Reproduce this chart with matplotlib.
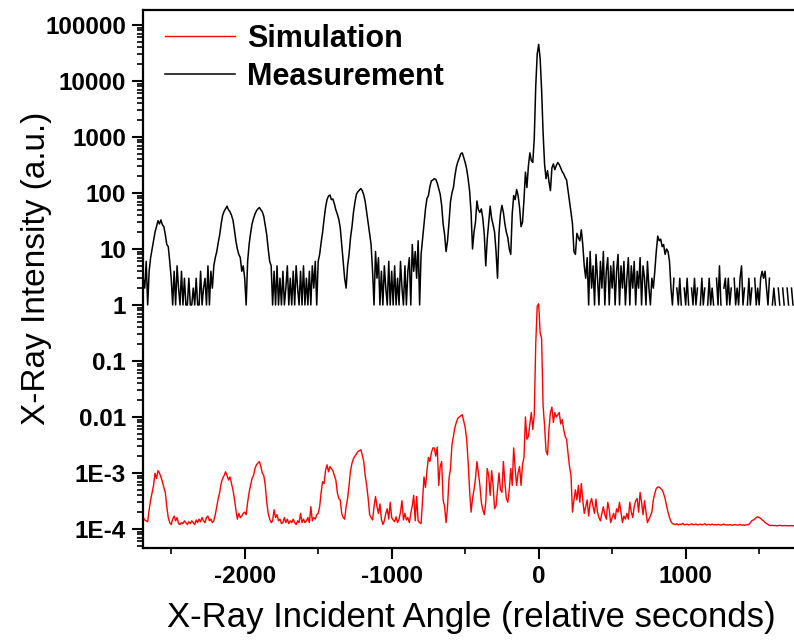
import numpy as np
import matplotlib
matplotlib.use("Agg")
import matplotlib.pyplot as plt
from matplotlib.ticker import FixedLocator, FixedFormatter, LogLocator, MultipleLocator, NullFormatter

# ---------------- data ----------------
scan_start = -2690      # first scan angle (relative seconds)
scan_step = 10          # scan step (relative seconds)

# measured counts, one row = 100 s (0 = no counts)
measurement = [
    3, 2, 6, 1, 4, 7, 10, 14, 20, 25,                      # -2690
    32, 28, 33, 27, 25, 18, 12, 11, 6, 3,                  # -2590
    1, 4, 1, 5, 2, 1, 4, 1, 3, 1,                          # -2490
    1, 3, 1, 1, 2, 1, 3, 1, 1, 4,                          # -2390
    1, 2, 3, 1, 5, 1, 4, 2, 5, 7,                          # -2290
    9, 13, 18, 28, 40, 47, 52, 58, 50, 46,                 # -2190
    40, 33, 22, 14, 10, 8, 7, 4, 5, 3,                     # -2090
    1, 6, 12, 19, 28, 35, 42, 48, 52, 55,                  # -1990
    50, 46, 38, 26, 18, 10, 6, 5, 1, 4,                    # -1890
    1, 5, 1, 3, 1, 4, 1, 2, 5, 1,                          # -1790
    3, 1, 4, 1, 5, 2, 1, 4, 1, 5,                          # -1690
    1, 3, 1, 4, 1, 5, 2, 6, 1, 6,                          # -1590
    8, 13, 20, 34, 55, 76, 88, 92, 76, 78,                 # -1490
    64, 50, 42, 34, 24, 12, 6, 3, 2, 5,                    # -1390
    8, 16, 25, 45, 68, 95, 105, 112, 120, 110,             # -1290
    92, 70, 45, 28, 18, 12, 4, 1, 9, 3,                    # -1190
    7, 1, 4, 1, 5, 2, 1, 6, 1, 4,                          # -1090
    1, 5, 1, 3, 1, 6, 2, 1, 5, 1,                          # -990
    4, 7, 1, 12, 4, 9, 3, 14, 1, 8,                        # -890
    15, 28, 52, 80, 90, 130, 165, 170, 180, 175,           # -790
    150, 120, 95, 60, 28, 18, 9, 14, 30, 70,               # -690
    100, 125, 200, 290, 360, 420, 500, 520, 430, 350,      # -590
    270, 180, 110, 45, 10, 20, 30, 72, 50, 45,             # -490
    52, 35, 18, 5, 15, 30, 58, 35, 27, 20,                 # -390
    9, 3, 19, 42, 60, 45, 28, 20, 16, 10,                  # -290
    8, 42, 90, 76, 115, 90, 55, 25, 30, 75,                # -190
    235, 125, 300, 520, 380, 350, 950, 8000, 30000, 45000, # -90
    25000, 6900, 1200, 330, 180, 250, 160, 110, 280, 330,  # 10
    260, 310, 350, 320, 280, 240, 220, 190, 170, 110,      # 110
    70, 45, 28, 9, 8, 19, 16, 14, 22, 12,                  # 210
    5, 3, 7, 1, 9, 2, 5, 1, 8, 3,                          # 310
    1, 6, 2, 9, 1, 4, 7, 1, 5, 2,                          # 410
    6, 1, 4, 8, 1, 5, 2, 6, 1, 3,                          # 510
    7, 1, 5, 2, 6, 1, 4, 2, 7, 1,                          # 610
    5, 3, 1, 6, 2, 1, 3, 2, 4, 9,                          # 710
    17, 14, 15, 11, 12, 8, 10, 9, 6, 2,                    # 810
    1, 3, 0, 2, 1, 3, 1, 0, 2, 1,                          # 910
    3, 1, 0, 2, 1, 3, 1, 2, 0, 1,                          # 1010
    3, 1, 2, 0, 1, 3, 1, 2, 1, 0,                          # 1110
    3, 1, 5, 1, 0, 2, 3, 1, 3, 1,                          # 1210
    2, 0, 3, 1, 2, 1, 3, 5, 1, 2,                          # 1310
    0, 1, 3, 1, 2, 0, 3, 1, 2, 1,                          # 1410
    3, 4, 3, 4, 2, 1, 3, 0, 1, 2,                          # 1510
    1, 0, 2, 1, 0, 2, 1, 0, 2, 1,                          # 1610
    0, 2, 1, 0,                                            # 1710
]

# simulated intensity, same scan grid
simulation = [
    1.6e-4, 1.45e-4, 1.4e-4, 1.35e-4, 2.2e-4, 3.3e-4, 4.5e-4, 6e-4, 9.9e-4, 8e-4,          # -2690
    1.1e-3, 1.0e-3, 8.5e-4, 7e-4, 5.5e-4, 4.5e-4, 2.5e-4, 1.6e-4, 1.3e-4, 1.2e-4,          # -2590
    1.5e-4, 1.7e-4, 1.4e-4, 1.6e-4, 1.25e-4, 1.2e-4, 1.3e-4, 1.25e-4, 1.4e-4, 1.3e-4,      # -2490
    1.2e-4, 1.35e-4, 1.25e-4, 1.4e-4, 1.3e-4, 1.2e-4, 1.45e-4, 1.3e-4, 1.5e-4, 1.35e-4,    # -2390
    1.6e-4, 1.4e-4, 1.3e-4, 1.6e-4, 1.7e-4, 1.4e-4, 1.5e-4, 1.3e-4, 1.4e-4, 1.8e-4,        # -2290
    2.5e-4, 3.5e-4, 4.5e-4, 6.5e-4, 8e-4, 9e-4, 1.05e-3, 9e-4, 7.5e-4, 8.5e-4,             # -2190
    6.5e-4, 5e-4, 3.5e-4, 2.2e-4, 1.5e-4, 1.9e-4, 1.6e-4, 1.7e-4, 1.9e-4, 2.0e-4,          # -2090
    1.8e-4, 3e-4, 4.5e-4, 6e-4, 8e-4, 9e-4, 1.2e-3, 1.4e-3, 1.5e-3, 1.6e-3,                # -1990
    1.3e-3, 9.9e-4, 9e-4, 6e-4, 3e-4, 1.9e-4, 1.5e-4, 1.3e-4, 1.4e-4, 2.2e-4,              # -1890
    1.6e-4, 1.8e-4, 1.4e-4, 1.5e-4, 1.25e-4, 1.3e-4, 1.6e-4, 1.3e-4, 1.5e-4, 1.25e-4,      # -1790
    1.4e-4, 1.3e-4, 1.5e-4, 1.3e-4, 1.2e-4, 1.4e-4, 1.3e-4, 1.9e-4, 1.3e-4, 1.5e-4,        # -1690
    1.3e-4, 1.4e-4, 1.6e-4, 1.3e-4, 2.5e-4, 1.4e-4, 1.6e-4, 1.5e-4, 1.8e-4, 1.9e-4,        # -1590
    2.5e-4, 4.5e-4, 7e-4, 6.5e-4, 1.1e-3, 1.4e-3, 1.05e-3, 1.3e-3, 1.2e-3, 1.1e-3,         # -1490
    9e-4, 7.5e-4, 4.5e-4, 3.5e-4, 3.3e-4, 1.9e-4, 1.6e-4, 1.5e-4, 2.5e-4, 3.5e-4,          # -1390
    6e-4, 1.1e-3, 1.5e-3, 1.8e-3, 2.0e-3, 2.2e-3, 2.4e-3, 2.5e-3, 2.6e-3, 2.1e-3,          # -1290
    1.6e-3, 9e-4, 6e-4, 3.5e-4, 1.8e-4, 1.6e-4, 1.45e-4, 2.5e-4, 3.8e-4, 2.5e-4,           # -1190
    1.9e-4, 2.8e-4, 1.5e-4, 1.2e-4, 1.4e-4, 1.9e-4, 2.3e-4, 1.5e-4, 3.0e-4, 1.6e-4,        # -1090
    1.45e-4, 1.35e-4, 1.65e-4, 1.3e-4, 1.5e-4, 2.0e-4, 3.2e-4, 1.45e-4, 1.9e-4, 1.45e-4,   # -990
    1.6e-4, 1.3e-4, 1.9e-4, 2.6e-4, 4.0e-4, 1.4e-4, 3.8e-4, 1.4e-4, 1.3e-4, 1.25e-4,       # -890
    3.3e-4, 8.5e-4, 5.5e-4, 1.1e-3, 1.9e-3, 1.6e-3, 2.3e-3, 2.8e-3, 2.8e-3, 2.0e-3,        # -790
    2.9e-3, 6e-4, 1.3e-3, 1.6e-3, 3.3e-4, 2.5e-4, 1.3e-4, 2.5e-4, 8e-4, 1.2e-3,            # -690
    3.2e-3, 4.5e-3, 6.5e-3, 8e-3, 9.5e-3, 1.0e-2, 1.05e-2, 1.1e-2, 8.5e-3, 6.5e-3,         # -590
    4e-3, 1.6e-3, 5e-4, 2e-4, 3.5e-4, 5e-4, 8e-4, 1.6e-3, 1.0e-3, 6e-4,                    # -490
    3e-4, 2.2e-4, 1.8e-4, 3e-4, 1.2e-3, 9e-4, 4e-4, 1.1e-3, 6e-4, 2.3e-4,                  # -390
    2.6e-4, 5e-4, 1.0e-3, 5e-4, 4.5e-4, 1.6e-3, 7e-4, 3.5e-4, 3e-4, 5e-4,                  # -290
    1.2e-3, 6e-4, 2.8e-3, 1.2e-3, 6e-4, 1.0e-3, 1.3e-3, 6e-4, 1.4e-3, 1.9e-3,              # -190
    1.0e-2, 4e-3, 4.5e-3, 7.5e-3, 1.2e-2, 6e-3, 1.1e-2, 0.2, 0.95, 1.05,                   # -90
    0.32, 0.25, 1.6e-2, 7e-3, 2.5e-3, 2.1e-3, 6e-3, 1.2e-2, 1.5e-2, 8e-3,                  # 10
    1.2e-2, 1.0e-2, 1.1e-2, 1.2e-2, 7.5e-3, 9e-3, 6e-3, 4.5e-3, 4e-3, 2.2e-3,              # 110
    1.3e-3, 9e-4, 2e-4, 3.3e-4, 5e-4, 3.3e-4, 6e-4, 3e-4, 6.5e-4, 3.3e-4,                  # 210
    1.9e-4, 2.5e-4, 3.3e-4, 1.7e-4, 2.9e-4, 3.5e-4, 2.5e-4, 1.9e-4, 3.4e-4, 2.0e-4,        # 310
    1.6e-4, 1.4e-4, 1.9e-4, 2.5e-4, 1.8e-4, 1.5e-4, 3.0e-4, 2.2e-4, 1.3e-4, 1.6e-4,        # 410
    1.9e-4, 1.5e-4, 2.3e-4, 2.0e-4, 3.0e-4, 2.0e-4, 1.3e-4, 1.7e-4, 1.5e-4, 1.9e-4,        # 510
    1.5e-4, 3.0e-4, 2.0e-4, 1.6e-4, 2.5e-4, 3.2e-4, 3.5e-4, 2.0e-4, 4.5e-4, 3.0e-4,        # 610
    1.8e-4, 3.2e-4, 2.0e-4, 1.3e-4, 1.5e-4, 1.7e-4, 2.0e-4, 3.3e-4, 4.3e-4, 5.3e-4,        # 710
    5.6e-4, 5.6e-4, 5.3e-4, 5e-4, 4.3e-4, 3.5e-4, 2.6e-4, 2.0e-4, 1.6e-4, 1.35e-4,         # 810
    1.25e-4, 1.22e-4, 1.2e-4, 1.24e-4, 1.18e-4, 1.22e-4, 1.2e-4, 1.26e-4, 1.19e-4, 1.2e-4, # 910
    1.22e-4, 1.18e-4, 1.2e-4, 1.24e-4, 1.19e-4, 1.2e-4, 1.23e-4, 1.18e-4, 1.2e-4, 1.22e-4, # 1010
    1.19e-4, 1.2e-4, 1.24e-4, 1.18e-4, 1.2e-4, 1.21e-4, 1.18e-4, 1.22e-4, 1.19e-4, 1.2e-4, # 1110
    1.18e-4, 1.21e-4, 1.19e-4, 1.17e-4, 1.2e-4, 1.22e-4, 1.18e-4, 1.19e-4, 1.17e-4, 1.2e-4, # 1210
    1.18e-4, 1.16e-4, 1.19e-4, 1.2e-4, 1.17e-4, 1.18e-4, 1.21e-4, 1.17e-4, 1.18e-4, 1.16e-4, # 1310
    1.18e-4, 1.2e-4, 1.2e-4, 1.3e-4, 1.4e-4, 1.45e-4, 1.5e-4, 1.6e-4, 1.65e-4, 1.6e-4,    # 1410
    1.55e-4, 1.45e-4, 1.4e-4, 1.3e-4, 1.25e-4, 1.2e-4, 1.16e-4, 1.15e-4, 1.16e-4, 1.15e-4, # 1510
    1.15e-4, 1.14e-4, 1.15e-4, 1.16e-4, 1.15e-4, 1.14e-4, 1.15e-4, 1.15e-4, 1.14e-4, 1.15e-4, # 1610
    1.14e-4, 1.15e-4, 1.14e-4, 1.15e-4,                                                     # 1710
]

series_labels = ["Simulation", "Measurement"]
xtick_values = [-2000, -1000, 0, 1000]
xtick_labels = ["-2000", "-1000", "0", "1000"]
ytick_values = [1e-4, 1e-3, 1e-2, 1e-1, 1, 10, 100, 1000, 10000, 100000]
ytick_labels = ["1E-4", "1E-3", "0.01", "0.1", "1", "10", "100", "1000", "10000", "100000"]

# ---------------- plotting ----------------
plt.rcParams["font.family"] = ["Liberation Sans", "DejaVu Sans"]

meas_angles = scan_start + scan_step * np.arange(len(measurement))
sim_angles = scan_start + scan_step * np.arange(len(simulation))
meas = np.array(measurement, dtype=float)
meas[meas <= 0] = np.nan  # zero counts cannot be shown on a log axis

fig = plt.figure(figsize=(7.94, 6.44), dpi=100)
ax = fig.add_axes([0.1797, 0.1486, 0.8203, 0.8359])

ax.plot(sim_angles, simulation, color="#ff0000", lw=1.0, label=series_labels[0])
ax.plot(meas_angles, meas, color="black", lw=1.1, label=series_labels[1])

ax.set_yscale("log")
ax.set_xlim(-2694, 1737)
ax.set_ylim(4.52e-5, 1.85e5)

ax.xaxis.set_major_locator(FixedLocator(xtick_values))
ax.xaxis.set_major_formatter(FixedFormatter(xtick_labels))
ax.xaxis.set_minor_locator(MultipleLocator(500))
ax.yaxis.set_major_locator(FixedLocator(ytick_values))
ax.yaxis.set_major_formatter(FixedFormatter(ytick_labels))
ax.yaxis.set_minor_locator(LogLocator(base=10, subs=np.arange(2, 10), numticks=100))
ax.yaxis.set_minor_formatter(NullFormatter())

ax.tick_params(axis="both", which="major", direction="out", length=8, width=1.5,
               labelsize=17.5, pad=4)
ax.tick_params(axis="both", which="minor", direction="out", length=4.5, width=1.2)
for lab in ax.get_xticklabels() + ax.get_yticklabels():
    lab.set_fontweight("bold")

for side in ("left", "bottom", "top"):
    ax.spines[side].set_linewidth(1.6)
ax.spines["right"].set_visible(False)

ax.set_xlabel("X-Ray Incident Angle (relative seconds)", fontsize=25)
ax.set_ylabel("X-Ray Intensity (a.u.)", fontsize=24)
ax.xaxis.set_label_coords(0.505, -0.098)
ax.yaxis.set_label_coords(-0.139, 0.5207)

ax.legend(loc="upper left", bbox_to_anchor=(0.034, 0.974), frameon=False,
          prop={"weight": "bold", "size": 22}, handlelength=2.3,
          handletextpad=0.4, labelspacing=0.25, borderpad=0, borderaxespad=0)

fig.savefig("out.png", dpi=100)
